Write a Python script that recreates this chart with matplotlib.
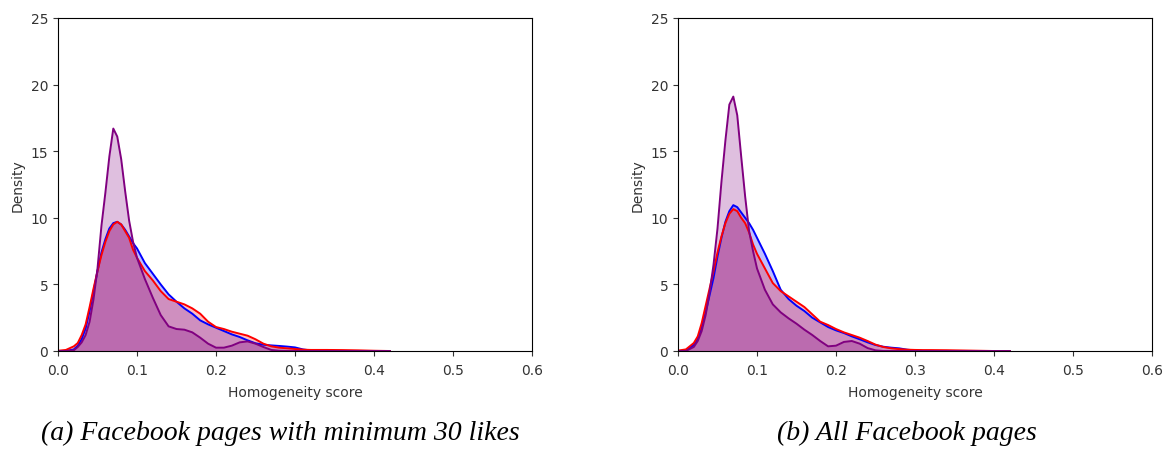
import matplotlib
matplotlib.use("Agg")
import matplotlib.pyplot as plt
import numpy as np

# homogeneity score grid
x = [0.0, 0.01, 0.02, 0.025, 0.03, 0.035, 0.04, 0.045, 0.05, 0.055, 0.06, 0.065,
     0.07, 0.075, 0.08, 0.085, 0.09, 0.095, 0.10, 0.11, 0.12, 0.13, 0.14, 0.15,
     0.16, 0.17, 0.18, 0.19, 0.20, 0.21, 0.22, 0.23, 0.24, 0.25, 0.26, 0.27,
     0.28, 0.29, 0.30, 0.31, 0.32, 0.34, 0.36, 0.38, 0.40, 0.42]

# (a) pages with minimum 30 likes
blue_a = [0, 0, 0.12, 0.4, 0.9, 1.7, 3.0, 4.5, 6.0, 7.4, 8.4, 9.2,
          9.6, 9.7, 9.5, 9.1, 8.6, 8.1, 7.7, 6.6, 5.8, 5.0, 4.25, 3.7,
          3.2, 2.8, 2.3, 2.0, 1.75, 1.5, 1.25, 1.05, 0.8, 0.58, 0.47, 0.42,
          0.38, 0.33, 0.27, 0.12, 0.04, 0.01, 0, 0, 0, 0]
red_a = [0.02, 0.08, 0.35, 0.6, 1.2, 2.0, 3.3, 4.7, 6.0, 7.2, 8.2, 9.0,
         9.5, 9.7, 9.5, 9.0, 8.5, 7.6, 7.0, 6.0, 5.3, 4.5, 3.9, 3.7,
         3.5, 3.2, 2.8, 2.2, 1.8, 1.65, 1.45, 1.3, 1.15, 0.88, 0.55, 0.35,
         0.25, 0.2, 0.15, 0.1, 0.08, 0.08, 0.07, 0.05, 0.02, 0]
purple_a = [0, 0, 0.05, 0.3, 0.65, 1.2, 2.2, 3.9, 6.2, 9.4, 11.9, 14.6,
            16.7, 16.1, 14.4, 12.0, 9.8, 8.2, 7.0, 5.4, 4.0, 2.7, 1.85, 1.65,
            1.6, 1.4, 1.0, 0.55, 0.25, 0.25, 0.4, 0.65, 0.72, 0.55, 0.3, 0.08,
            0.02, 0, 0, 0, 0, 0, 0, 0, 0, 0]

# (b) all pages
blue_b = [0, 0.02, 0.45, 0.9, 1.8, 2.9, 4.2, 5.5, 7.1, 8.5, 9.7, 10.5,
          10.95, 10.8, 10.4, 10.0, 9.6, 9.1, 8.5, 7.3, 6.0, 4.6, 3.9, 3.4,
          3.0, 2.5, 2.15, 1.8, 1.55, 1.35, 1.1, 0.88, 0.65, 0.45, 0.32, 0.25,
          0.2, 0.1, 0.04, 0.01, 0, 0, 0, 0, 0, 0]
red_b = [0.03, 0.12, 0.6, 1.1, 2.1, 3.4, 4.7, 6.0, 7.4, 8.6, 9.6, 10.3,
         10.65, 10.5, 10.0, 9.6, 8.9, 8.0, 7.3, 6.2, 5.1, 4.5, 4.1, 3.7,
         3.3, 2.75, 2.2, 1.95, 1.65, 1.4, 1.2, 1.0, 0.75, 0.48, 0.3, 0.2,
         0.14, 0.1, 0.08, 0.07, 0.07, 0.06, 0.04, 0.02, 0, 0]
purple_b = [0, 0, 0.3, 0.75, 1.5, 2.7, 4.4, 6.5, 9.2, 12.7, 15.8, 18.5,
            19.1, 17.7, 14.6, 11.6, 9.0, 7.5, 6.2, 4.6, 3.5, 2.9, 2.45, 2.05,
            1.6, 1.2, 0.75, 0.35, 0.4, 0.68, 0.75, 0.55, 0.22, 0.05, 0, 0,
            0, 0, 0, 0, 0, 0, 0, 0, 0, 0]

captions = ["(a) Facebook pages with minimum 30 likes", "(b) All Facebook pages"]

fig = plt.figure(figsize=(11.64, 4.52), dpi=100)
ax1 = fig.add_axes([58/1164, 1-352/452, 474/1164, 333/452])
ax2 = fig.add_axes([678/1164, 1-352/452, 474/1164, 333/452])

for ax, series in [(ax1, (blue_a, red_a, purple_a)), (ax2, (blue_b, red_b, purple_b))]:
    for y, c in zip(series, ["blue", "red", "purple"]):
        ax.fill_between(x, y, color=c, alpha=0.25, linewidth=0)
        ax.plot(x, y, color=c, linewidth=1.4)
    ax.set_xlim(0, 0.6)
    ax.set_ylim(0, 25)
    ax.set_xticks([0.0, 0.1, 0.2, 0.3, 0.4, 0.5, 0.6])
    ax.set_yticks([0, 5, 10, 15, 20, 25])
    ax.tick_params(labelsize=10, colors="#333333")
    ax.tick_params(axis="x", pad=5)
    ax.set_xlabel("Homogeneity score", fontsize=10, color="#333333", labelpad=6)
    ax.set_ylabel("Density", fontsize=10, color="#333333")

fig.text(280/1164, 1-433/452, captions[0], ha="center", va="center",
         family="Liberation Serif", style="italic", fontsize=20)
fig.text(907/1164, 1-433/452, captions[1], ha="center", va="center",
         family="Liberation Serif", style="italic", fontsize=20)

fig.savefig("out.png", dpi=100)
